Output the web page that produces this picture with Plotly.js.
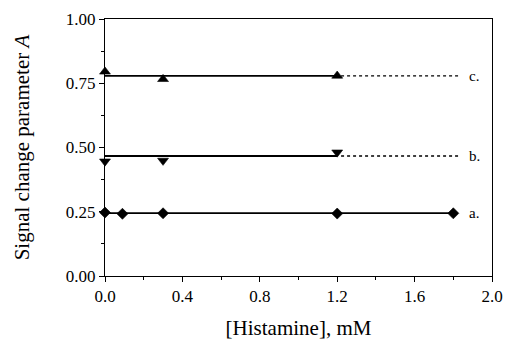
<!DOCTYPE html>
<html>
<head>
<meta charset="utf-8">
<script src="https://cdn.plot.ly/plotly-3.0.1.min.js"></script>
<style>html,body{margin:0;padding:0;background:#fff;}#chart{width:506px;height:340px;}</style>
</head>
<body>
<div id="chart"></div>
<script>
// Measured points: signal change parameter A vs histamine concentration
const xA = [0, 0.09, 0.3, 1.2, 1.8];
const yA = [0.247, 0.242, 0.244, 0.243, 0.244];
const xB = [0, 0.3, 1.2];
const yB = [0.446, 0.449, 0.481];
const xC = [0, 0.3, 1.2];
const yC = [0.795, 0.766, 0.779];

// Mean levels (fit lines) and their extent
const levelA = 0.245, levelB = 0.467, levelC = 0.779;
const solidA = [0, 1.8];
const solidBC = [0, 1.2];
const dottedBC = [1.22, 1.83];
const labelX = 1.87;
const labels = ['a.', 'b.', 'c.'];

const black = '#000';
const traces = [];
function levelLine(xs, y, dash) {
  traces.push({x: xs, y: xs.map(() => y), mode: 'lines', line: {color: black, width: dash === 'solid' ? 1.8 : 1.3, dash: dash}, hoverinfo: 'skip'});
}
levelLine(solidA, levelA, 'solid');
levelLine(solidBC, levelB, 'solid');
levelLine(dottedBC, levelB, 'dot');
levelLine(solidBC, levelC, 'solid');
levelLine(dottedBC, levelC, 'dot');

function pts(x, y, sym, size) {
  traces.push({x: x, y: y, mode: 'markers', cliponaxis: false, marker: {symbol: sym, size: size, color: black, line: {width: 0.6, color: black}}});
}
pts(xA, yA, 'diamond', 8.5);
pts(xB, yB, 'triangle-down', 9.5);
pts(xC, yC, 'triangle-up', 9.5);

const fontFam = 'Liberation Serif, Times New Roman, Times, serif';
const tickFont = {family: fontFam, size: 17, color: black};
const titleFont = {family: fontFam, size: 21, color: black};
const annotations = [levelA, levelB, levelC].map((lv, i) => ({
  x: labelX, y: lv, text: labels[i], showarrow: false, xanchor: 'left', yanchor: 'middle',
  font: {family: fontFam, size: 15, color: black}
}));

const layout = {
  width: 506, height: 340,
  margin: {l: 105, r: 14, t: 19, b: 64},
  paper_bgcolor: '#fff', plot_bgcolor: '#fff',
  showlegend: false,
  font: {family: fontFam, color: black},
  xaxis: {
    range: [0, 2.0], tickvals: [0, 0.4, 0.8, 1.2, 1.6, 2.0], ticktext: ['0.0', '0.4', '0.8', '1.2', '1.6', '2.0'],
    ticks: 'outside', ticklen: 5, tickcolor: black, showline: true, linecolor: black, linewidth: 1, mirror: true,
    showgrid: false, zeroline: false, tickfont: tickFont,
    minor: {dtick: 0.2, tick0: 0, ticks: 'outside', ticklen: 3, tickcolor: black, showgrid: false},
    title: {text: '[Histamine], mM', font: titleFont, standoff: 25}
  },
  yaxis: {
    range: [0, 1.0], tickvals: [0, 0.25, 0.5, 0.75, 1.0], ticktext: ['0.00', '0.25', '0.50', '0.75', '1.00'],
    ticks: 'outside', ticklen: 5, tickcolor: black, showline: true, linecolor: black, linewidth: 1, mirror: true,
    showgrid: false, zeroline: false, tickfont: tickFont,
    minor: {dtick: 0.125, tick0: 0, ticks: 'outside', ticklen: 3, tickcolor: black, showgrid: false},
    title: {text: 'Signal change parameter <i>A</i>', font: titleFont, standoff: 30}
  },
  annotations: annotations
};

Plotly.newPlot('chart', traces, layout, {displayModeBar: false, staticPlot: true});
</script>
</body>
</html>
